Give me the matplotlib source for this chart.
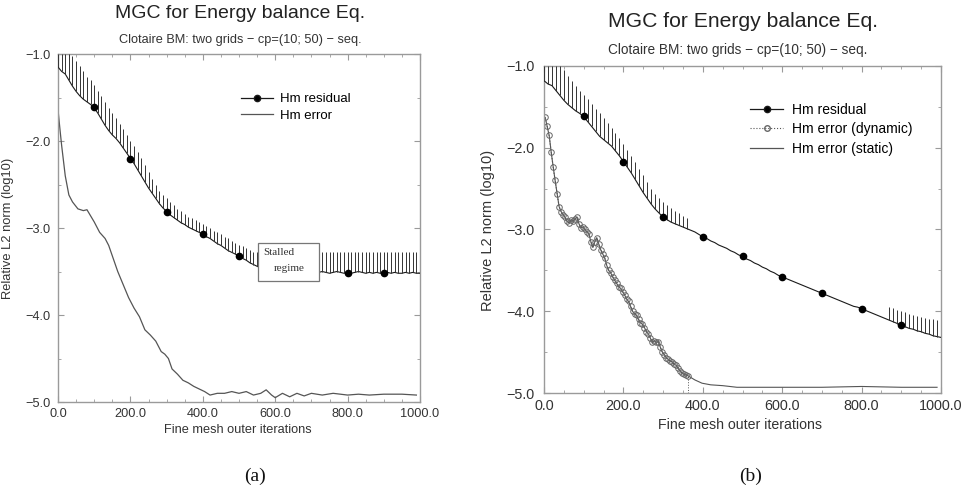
import numpy as np
import matplotlib
matplotlib.use("Agg")
import matplotlib.pyplot as plt
from matplotlib.patches import Rectangle
from matplotlib.lines import Line2D

# ---------------- data ----------------
title = "MGC for Energy balance Eq."
subtitle = "Clotaire BM: two grids \u2212 cp=(10; 50) \u2212 seq."
xlabel = "Fine mesh outer iterations"
ylabel = "Relative L2 norm (log10)"
xtick_vals = [0, 200, 400, 600, 800, 1000]
xtick_labels = ["0.0", "200.0", "400.0", "600.0", "800.0", "1000.0"]
ytick_vals = [-5, -4, -3, -2, -1]
ytick_labels = ["\u22125.0", "\u22124.0", "\u22123.0", "\u22122.0", "\u22121.0"]

# sampling grid of the residual (outer iterations)
resid_iter = list(range(0, 1001, 10))

# panel (a): residual lower envelope and cycle-spike tops
resid_a_low = [
    -1.15, -1.20, -1.23, -1.30, -1.37, -1.43, -1.48, -1.52, -1.55, -1.58,
    -1.62, -1.68, -1.75, -1.82, -1.88, -1.93, -1.97, -2.02, -2.08, -2.14,
    -2.20, -2.26, -2.33, -2.40, -2.47, -2.54, -2.60, -2.66, -2.72, -2.77,
    -2.81, -2.85, -2.88, -2.91, -2.94, -2.96, -2.99, -3.01, -3.03, -3.05,
    -3.07, -3.10, -3.12, -3.15, -3.18, -3.20, -3.23, -3.26, -3.28, -3.30,
    -3.32, -3.35, -3.37, -3.40, -3.42, -3.44, -3.46, -3.48, -3.49, -3.50,
    -3.50, -3.51, -3.50, -3.51, -3.52, -3.50, -3.51, -3.52, -3.51, -3.50,
    -3.51, -3.52, -3.51, -3.50, -3.51, -3.52, -3.51, -3.50, -3.51, -3.52,
    -3.51, -3.52, -3.51, -3.50, -3.51, -3.52, -3.51, -3.52, -3.51, -3.52,
    -3.52, -3.51, -3.52, -3.51, -3.52, -3.52, -3.51, -3.52, -3.51, -3.52,
    -3.52]
resid_a_high = [
    -1.00, -1.00, -1.00, -1.00, -1.02, -1.08, -1.14, -1.20, -1.26, -1.30,
    -1.36, -1.42, -1.48, -1.55, -1.62, -1.68, -1.74, -1.80, -1.86, -1.93,
    -2.00, -2.06, -2.13, -2.20, -2.28, -2.36, -2.44, -2.51, -2.57, -2.62,
    -2.66, -2.70, -2.74, -2.78, -2.81, -2.84, -2.87, -2.89, -2.91, -2.93,
    -2.95, -2.98, -3.00, -3.03, -3.05, -3.07, -3.10, -3.12, -3.15, -3.17,
    -3.19, -3.21, -3.23, -3.25, -3.27, -3.28, -3.28, -3.27, -3.28, -3.27,
    -3.28, -3.27, -3.28, -3.27, -3.28, -3.27, -3.28, -3.27, -3.28, -3.27,
    -3.28, -3.27, -3.28, -3.27, -3.28, -3.27, -3.28, -3.27, -3.28, -3.27,
    -3.28, -3.27, -3.28, -3.27, -3.28, -3.27, -3.28, -3.27, -3.28, -3.27,
    -3.28, -3.27, -3.28, -3.27, -3.28, -3.27, -3.28, -3.27, -3.28, -3.27,
    -3.28]
marker_iter = [100, 200, 300, 400, 500, 600, 700, 800, 900]
resid_a_marker = [-1.61, -2.21, -2.82, -3.07, -3.32, -3.50, -3.51, -3.52, -3.52]

err_a_iter = [0, 5, 10, 20, 30, 40, 55, 70, 80, 90, 100, 115, 130, 140, 150,
              165, 180, 195, 210, 225, 240, 255, 270, 285, 295, 305, 315, 330,
              345, 360, 375, 390, 405, 420, 440, 460, 480, 500, 520, 540, 560,
              575, 590, 600, 620, 640, 660, 680, 700, 730, 760, 800, 830, 860,
              900, 950, 990]
err_a_val = [-1.64, -1.85, -2.05, -2.40, -2.62, -2.70, -2.78, -2.80, -2.79,
             -2.86, -2.93, -3.05, -3.12, -3.20, -3.32, -3.50, -3.65, -3.80,
             -3.92, -4.02, -4.17, -4.23, -4.30, -4.42, -4.45, -4.50, -4.62,
             -4.68, -4.75, -4.78, -4.82, -4.85, -4.88, -4.92, -4.90, -4.90,
             -4.88, -4.90, -4.88, -4.92, -4.90, -4.86, -4.92, -4.95, -4.90,
             -4.94, -4.90, -4.93, -4.90, -4.92, -4.90, -4.92, -4.91, -4.92,
             -4.91, -4.91, -4.92]

# panel (b)
resid_b_low = [
    -1.18, -1.22, -1.24, -1.30, -1.36, -1.42, -1.47, -1.51, -1.55, -1.58,
    -1.62, -1.68, -1.74, -1.80, -1.86, -1.90, -1.94, -1.98, -2.04, -2.10,
    -2.17, -2.24, -2.31, -2.39, -2.47, -2.55, -2.62, -2.69, -2.75, -2.80,
    -2.85, -2.88, -2.91, -2.93, -2.95, -2.97, -2.99, -3.01, -3.03, -3.06,
    -3.09, -3.11, -3.14, -3.16, -3.19, -3.21, -3.23, -3.26, -3.28, -3.31,
    -3.33, -3.36, -3.38, -3.41, -3.43, -3.46, -3.48, -3.51, -3.53, -3.56,
    -3.58, -3.60, -3.62, -3.64, -3.66, -3.68, -3.70, -3.72, -3.74, -3.76,
    -3.78, -3.80, -3.82, -3.84, -3.86, -3.88, -3.90, -3.92, -3.94, -3.95,
    -3.97, -3.99, -4.01, -4.03, -4.05, -4.07, -4.09, -4.11, -4.13, -4.15,
    -4.17, -4.19, -4.21, -4.22, -4.24, -4.25, -4.27, -4.28, -4.30, -4.31,
    -4.32]
nan = float("nan")
resid_b_high = [
    -1.00, -1.00, -1.00, -1.00, -1.00, -1.05, -1.12, -1.18, -1.24, -1.30,
    -1.35, -1.40, -1.46, -1.52, -1.58, -1.64, -1.70, -1.76, -1.82, -1.88,
    -1.96, -2.03, -2.10, -2.18, -2.26, -2.33, -2.42, -2.50, -2.56, -2.62,
    -2.66, -2.70, -2.74, -2.77, -2.80, -2.83, -2.86, nan, nan, nan,
    nan, nan, nan, nan, nan, nan, nan, nan, nan, nan,
    nan, nan, nan, nan, nan, nan, nan, nan, nan, nan,
    nan, nan, nan, nan, nan, nan, nan, nan, nan, nan,
    nan, nan, nan, nan, nan, nan, nan, nan, nan, nan,
    nan, nan, nan, nan, nan, nan, nan, -3.95, -3.96, -3.98,
    -4.00, -4.01, -4.03, -4.04, -4.06, -4.07, -4.08, -4.09, -4.10, -4.11,
    -4.12]
resid_b_marker = [-1.61, -2.17, -2.85, -3.09, -3.33, -3.58, -3.78, -3.97, -4.17]

dyn_iter = [3, 8, 13, 18, 23, 28, 33, 38, 43, 48, 53, 58, 63, 68, 73, 78, 83,
            88, 93, 98, 103, 108, 113, 118, 123, 128, 133, 138, 143, 148, 153,
            158, 163, 168, 173, 178, 183, 188, 193, 198, 203, 208, 213, 218,
            223, 228, 233, 238, 243, 248, 253, 258, 263, 268, 273, 278, 283,
            288, 293, 298, 303, 308, 313, 318, 323, 328, 333, 338, 343, 348,
            353, 358, 363]
dyn_val = [-1.63, -1.74, -1.85, -2.05, -2.23, -2.40, -2.56, -2.72, -2.78,
           -2.82, -2.85, -2.90, -2.92, -2.88, -2.90, -2.87, -2.85, -2.93,
           -2.98, -2.97, -3.00, -3.03, -3.05, -3.15, -3.22, -3.15, -3.10,
           -3.18, -3.25, -3.30, -3.35, -3.44, -3.50, -3.53, -3.58, -3.62,
           -3.66, -3.70, -3.72, -3.76, -3.80, -3.85, -3.88, -3.94, -4.00,
           -4.03, -4.05, -4.10, -4.14, -4.16, -4.20, -4.25, -4.28, -4.33,
           -4.38, -4.36, -4.38, -4.37, -4.44, -4.50, -4.53, -4.57, -4.59,
           -4.61, -4.62, -4.65, -4.66, -4.70, -4.73, -4.76, -4.77, -4.78,
           -4.79]
static_iter = [380, 398, 420, 450, 486, 520, 600, 700, 800, 900, 990]
static_val = [-4.84, -4.88, -4.90, -4.91, -4.93, -4.93, -4.93, -4.93,
              -4.92, -4.93, -4.93]

# ---------------- style ----------------
plt.rcParams["font.family"] = ["Liberation Sans", "DejaVu Sans"]
SPINE = "#9a9a9a"
DARK = "#1a1a1a"
GREY = "#555555"
TXT = "#333333"

fig = plt.figure(figsize=(9.62, 4.87), dpi=100)
ax_a = fig.add_axes([0.0603, 0.1745, 0.3763, 0.7146])
ax_b = fig.add_axes([0.5655, 0.1930, 0.4127, 0.6715])


def style_axes(ax, fs, ypad, xpad):
    ax.set_xlim(0, 1000)
    ax.set_ylim(-5, -1)
    ax.set_xticks(xtick_vals)
    ax.set_xticklabels(xtick_labels)
    ax.set_yticks(ytick_vals)
    ax.set_yticklabels(ytick_labels)
    ax.set_xticks(np.arange(0, 1001, 50), minor=True)
    ax.set_yticks(np.arange(-5, -0.99, 0.5), minor=True)
    ax.tick_params(which="both", direction="in", top=True, right=True,
                   color=SPINE, labelsize=fs, labelcolor=TXT)
    ax.tick_params(which="major", length=4, width=0.8)
    ax.tick_params(which="minor", length=2, width=0.6)
    ax.tick_params(axis="y", pad=ypad)
    ax.tick_params(axis="x", pad=xpad)
    for s in ax.spines.values():
        s.set_color(SPINE)
        s.set_linewidth(1.0)


def draw_residual(ax, low, high, markers):
    x = np.array(resid_iter, dtype=float)
    lo = np.array(low)
    hi = np.array(high)
    ax.plot(x, lo, color=DARK, lw=0.8, zorder=3)
    ok = ~np.isnan(hi)
    ax.vlines(x[ok], lo[ok], hi[ok], color="#333333", lw=0.7, zorder=3)
    ax.plot(marker_iter, markers, "o", color="black", ms=4.5, zorder=4)


# ---- panel (a)
style_axes(ax_a, 9.2, 5.5, 4)
draw_residual(ax_a, resid_a_low, resid_a_high, resid_a_marker)
ax_a.plot(err_a_iter, err_a_val, color=GREY, lw=0.9, zorder=2)
ax_a.add_patch(Rectangle((552, -3.61), 168, 0.44, facecolor="white",
                         edgecolor="#777777", lw=0.9, zorder=6))
ax_a.text(566, -3.28, "Stalled", family=["Liberation Serif"], fontsize=8,
          color=TXT, va="center", zorder=7)
ax_a.text(597, -3.47, "regime", family=["Liberation Serif"], fontsize=8,
          color=TXT, va="center", zorder=7)
h_res = Line2D([], [], color=DARK, lw=0.9, marker="o", ms=4.5,
               markevery=[0, -1], markerfacecolor="black")
h_err = Line2D([], [], color=GREY, lw=0.9)
ax_a.legend([h_res, h_err], ["Hm residual", "Hm error"], loc="upper left",
            bbox_to_anchor=(0.505, 0.888), frameon=False, fontsize=9.5,
            handlelength=2.45, labelspacing=0.35, handletextpad=0.5,
            borderpad=0, borderaxespad=0)

# ---- panel (b)
style_axes(ax_b, 10.4, 7, 4.5)
draw_residual(ax_b, resid_b_low, resid_b_high, resid_b_marker)
ax_b.plot(dyn_iter + static_iter, dyn_val + static_val, color=GREY, lw=0.8,
          zorder=2)
ax_b.plot(dyn_iter, dyn_val, color=GREY, lw=0.8, ls=":", marker="o", ms=4,
          markerfacecolor="none", markeredgecolor="#666666",
          markeredgewidth=0.7, zorder=2)
ax_b.vlines(dyn_iter[-1], -5, dyn_val[-1], color=GREY, lw=0.7, ls=":")
h_dyn = Line2D([], [], color=GREY, lw=0.8, ls=":", marker="o", ms=4,
               markevery=[0, -1], markerfacecolor="none",
               markeredgecolor="#666666")
h_sta = Line2D([], [], color=GREY, lw=0.9)
ax_b.legend([h_res, h_dyn, h_sta],
            ["Hm residual", "Hm error (dynamic)", "Hm error (static)"],
            loc="upper left", bbox_to_anchor=(0.519, 0.888), frameon=False,
            fontsize=10, handlelength=2.4, labelspacing=0.4,
            handletextpad=0.65, borderpad=0, borderaxespad=0)

# ---- figure texts
fig.text(0.2495, 0.973, title, ha="center", va="center", fontsize=14,
         color="#222222")
fig.text(0.2495, 0.918, subtitle, ha="center", va="center", fontsize=9.2,
         color=TXT)
fig.text(0.772, 0.955, title, ha="center", va="center", fontsize=15.2,
         color="#222222")
fig.text(0.767, 0.897, subtitle, ha="center", va="center", fontsize=9.8,
         color=TXT)
fig.text(0.247, 0.117, xlabel, ha="center", va="center", fontsize=9.2,
         color=TXT)
fig.text(0.769, 0.127, xlabel, ha="center", va="center", fontsize=10.2,
         color=TXT)
fig.text(0.008, 1 - 228 / 487, ylabel, rotation=90, ha="center",
         va="center", fontsize=9.3, color=TXT)
fig.text(0.507, 1 - 230 / 487, ylabel, rotation=90, ha="center",
         va="center", fontsize=10.5, color=TXT)
fig.text(0.265, 0.022, "(a)", ha="center", va="center", fontsize=14,
         family=["Liberation Serif"], color="#111111")
fig.text(0.78, 0.022, "(b)", ha="center", va="center", fontsize=14,
         family=["Liberation Serif"], color="#111111")

fig.savefig("out.png", dpi=100)
